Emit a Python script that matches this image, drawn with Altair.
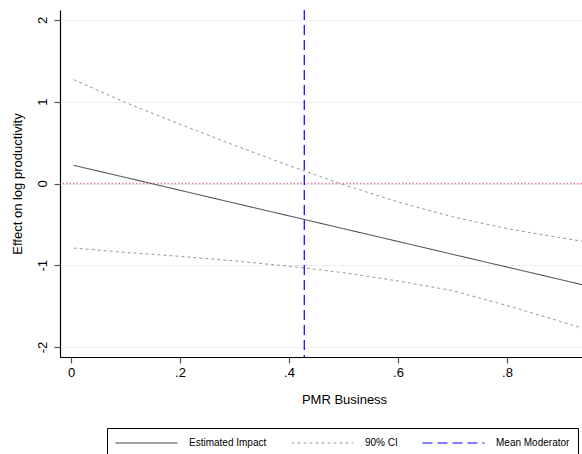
import altair as alt
import pandas as pd

# Marginal effect of the moderator (PMR Business) on log productivity
moderator = [0.005, 0.1, 0.2, 0.3, 0.4, 0.5, 0.6, 0.7, 0.8, 0.9, 0.938]
estimate = [0.222, 0.074, -0.083, -0.240, -0.396, -0.553, -0.709, -0.866, -1.022, -1.178, -1.238]
ci_upper = [1.27, 0.99, 0.725, 0.467, 0.219, -0.015, -0.226, -0.407, -0.552, -0.665, -0.705]
ci_lower = [-0.79, -0.843, -0.891, -0.947, -1.011, -1.091, -1.192, -1.31, -1.492, -1.691, -1.77]
mean_moderator = 0.428

series_names = ["Estimated Impact", "90% CI", "Mean Moderator"]
series_colors = ["#333333", "#999999", "#0000ff"]
series_dashes = [[1, 0], [3, 3], [10, 5]]

x_ticks = [0, 0.2, 0.4, 0.6, 0.8]
y_ticks = [-2, -1, 0, 1, 2]

rows = []
for bound, values, name in [
    ("est", estimate, "Estimated Impact"),
    ("upper", ci_upper, "90% CI"),
    ("lower", ci_lower, "90% CI"),
]:
    for xv, yv in zip(moderator, values):
        rows.append({"x": xv, "y": yv, "series": name, "bound": bound})
lines_df = pd.DataFrame(rows)

font = "Liberation Sans"

x_scale = alt.Scale(domain=[-0.0202, 0.9376], nice=False, zero=False)
y_scale = alt.Scale(domain=[-2.122, 2.122], nice=False, zero=False)

legend = alt.Legend(
    orient="none",
    legendX=47,
    legendY=418,
    direction="horizontal",
    columns=3,
    title=None,
    symbolType="stroke",
    symbolSize=3844,
    symbolStrokeWidth=1,
    clipHeight=14,
    labelFont=font,
    labelFontSize=10,
    labelColor="black",
    labelOffset=11,
    columnPadding=24,
    padding=8,
    strokeColor="black",
    fillColor="white",
)

color_enc = alt.Color(
    "series:N",
    scale=alt.Scale(domain=series_names, range=series_colors),
    legend=legend,
)
dash_enc = alt.StrokeDash(
    "series:N",
    scale=alt.Scale(domain=series_names, range=series_dashes),
    legend=legend,
)

x_axis = alt.Axis(
    values=x_ticks,
    labelExpr="datum.value == 0 ? '0' : replace(format(datum.value, '.1f'), '0.', '.')",
    title="PMR Business",
    grid=False,
    tickSize=6,
    labelPadding=3,
    titlePadding=14,
    titleX=284,
)
y_axis = alt.Axis(
    values=y_ticks,
    labelExpr="'' + datum.value",
    title="Effect on log productivity",
    grid=True,
    labelAngle=270,
    tickSize=6,
    labelPadding=5,
    titlePadding=12,
)

zero_line = (
    alt.Chart(pd.DataFrame({"y": [0]}))
    .mark_rule(color="#ec7f9a", strokeDash=[1.5, 2], strokeWidth=1.5)
    .encode(y=alt.Y("y:Q", scale=y_scale, axis=y_axis))
)

effect_lines = (
    alt.Chart(lines_df)
    .mark_line(strokeWidth=1, clip=True)
    .encode(
        x=alt.X("x:Q", scale=x_scale, axis=x_axis),
        y=alt.Y("y:Q", scale=y_scale, axis=y_axis),
        color=color_enc,
        strokeDash=dash_enc,
        detail="bound:N",
    )
)

mean_rule = (
    alt.Chart(pd.DataFrame({"x": [mean_moderator], "series": ["Mean Moderator"]}))
    .mark_rule(strokeWidth=1.2)
    .encode(
        x=alt.X("x:Q", scale=x_scale, axis=x_axis),
        color=color_enc,
        strokeDash=dash_enc,
    )
)

chart = (
    alt.layer(zero_line, effect_lines, mean_rule)
    .properties(
        width=522,
        height=347,
        autosize=alt.AutoSizeParams(type="none"),
        padding={"left": 60, "top": 10, "right": 0, "bottom": 97},
        background="white",
    )
    .configure_view(stroke=None)
    .configure_axis(
        labelFont=font,
        titleFont=font,
        labelFontSize=13,
        titleFontSize=13,
        titleFontWeight="normal",
        labelColor="black",
        titleColor="black",
        domainColor="black",
        domainWidth=1.2,
        tickColor="#555555",
        tickWidth=1.2,
        gridColor="#eeeeee",
        gridWidth=1,
    )
)

chart.save("out.html", embed_options={"renderer": "svg", "actions": False})
